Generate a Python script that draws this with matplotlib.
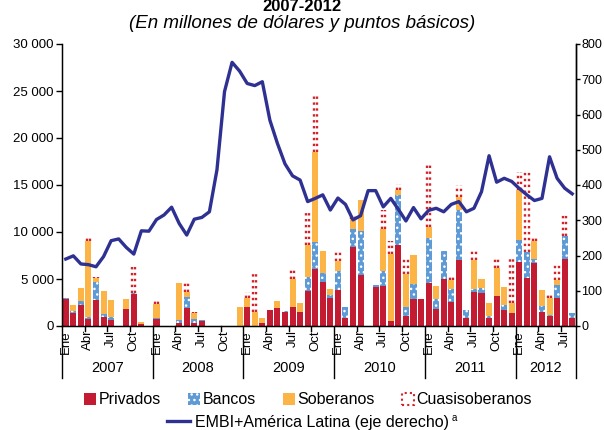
import numpy as np
import matplotlib
matplotlib.use("Agg")
import matplotlib.pyplot as plt
from matplotlib.patches import Patch
from matplotlib.lines import Line2D
import matplotlib.transforms as mtransforms

plt.rcParams['font.family'] = ['Liberation Sans', 'DejaVu Sans']
plt.rcParams['hatch.linewidth'] = 1.0

# ── Data (monthly, Ene 2007 – Ago 2012) ─────────────────────────
years = ["2007", "2008", "2009", "2010", "2011", "2012"]
month_labels = ["Ene", "Abr", "Jul", "Oct"]

privados = [2900, 1400, 2200, 700, 2800, 1000, 650, 0, 1800, 3450, 200, 0,
            700, 0, 0, 300, 1950, 300, 500, 0, 0, 0, 0, 0,
            2000, 0, 350, 1700, 1950, 1500, 2000, 1500, 3700, 6050, 4700, 3000,
            3850, 900, 8450, 5450, 0, 4200, 4300, 550, 8650, 1050, 2900, 2850,
            4600, 1850, 5050, 2600, 7000, 900, 3650, 3550, 800, 3200, 1650, 1350,
            6850, 5150, 6650, 1500, 1100, 3000, 7100, 900]
bancos = [100, 150, 450, 250, 1900, 300, 300, 0, 0, 100, 0, 0,
          150, 0, 0, 350, 1150, 400, 100, 0, 0, 0, 0, 0,
          0, 0, 0, 0, 0, 50, 0, 0, 1500, 2850, 900, 300,
          2000, 1150, 1850, 4650, 0, 150, 1500, 0, 5300, 1000, 1550, 0,
          4800, 1050, 2950, 1300, 5350, 750, 300, 450, 250, 0, 600, 0,
          2300, 2750, 450, 650, 100, 1350, 2500, 500]
soberanos = [0, 650, 1350, 8050, 400, 2450, 1800, 0, 1100, 0, 200, 0,
             1450, 0, 0, 3950, 550, 700, 0, 0, 0, 0, 0, 2050,
             1000, 1500, 550, 0, 700, 0, 3000, 950, 3450, 9600, 2400, 600,
             1050, 0, 1100, 3300, 0, 0, 4500, 7150, 500, 3500, 3100, 0,
             1150, 1350, 0, 1000, 1400, 0, 3050, 950, 1450, 3000, 1850, 1050,
             5300, 0, 1950, 1700, 1800, 550, 0, 0]
cuasisoberanos = [0, 0, 0, 400, 100, 0, 0, 0, 0, 3050, 0, 0,
                  600, 0, 0, 0, 950, 100, 0, 0, 0, 0, 0, 0,
                  600, 4000, 0, 0, 0, 0, 1100, 0, 3350, 6250, 0, 0,
                  1050, 0, 500, 0, 0, 0, 2050, 1350, 650, 1650, 0, 0,
                  6650, 0, 0, 500, 1250, 0, 1100, 0, 0, 1050, 0, 4800,
                  1950, 8600, 550, 0, 300, 1750, 2400, 0]
embi = [190, 199, 176, 174, 168, 197, 242, 247, 223, 204, 270, 269,
        302, 315, 337, 291, 258, 303, 308, 324, 443, 665, 748, 723,
        688, 682, 693, 584, 518, 460, 426, 414, 353, 362, 372, 329,
        363, 345, 301, 313, 384, 384, 338, 362, 331, 298, 336, 304,
        328, 334, 324, 345, 353, 324, 334, 381, 483, 408, 419, 410,
        390, 372, 356, 362, 480, 419, 391, 375]

# ── Style ──────────────────────────────────────────────────────
RED    = "#C21B32"
BLUE   = "#5E9BD6"
ORANGE = "#FDB446"
NAVY   = "#2E3192"
CUASI  = "#D2232A"
DOTS   = (0, (1, 1.5))

n  = len(privados)
x  = np.arange(n)
p  = np.array(privados)
b  = np.array(bancos)
s  = np.array(soberanos)
c  = np.array(cuasisoberanos)
W  = 0.8

fig = plt.figure(figsize=(6.04, 4.30), dpi=100)
ax = fig.add_axes([62/604, 1 - 326/430, 514/604, 282/430])

ax.bar(x, p, W, color=RED, lw=0)
ax.bar(x, b, W, bottom=p, color=BLUE, edgecolor="white", hatch="...", lw=0)
ax.bar(x, s, W, bottom=p + b, color=ORANGE, lw=0)

# cuasisoberanos: white bars drawn as two dotted red columns
base = p + b + s
has_c = c > 0
for off in (-0.22, 0.22):
    ax.vlines(x[has_c] + off, base[has_c], (base + c)[has_c], colors=CUASI,
              lw=1.7, linestyles=[DOTS])

ax.set_xlim(-0.5, n - 0.5)
ax.set_ylim(0, 30000)
ax.set_yticks(range(0, 30001, 5000))
ax.set_yticklabels([f"{v:,}".replace(",", " ") for v in range(0, 30001, 5000)],
                   fontsize=9.5)
ax.set_xticks([])
ax.spines["top"].set_visible(False)
ax.tick_params(axis="y", direction="out", length=4, width=1, pad=2)
for sp in ["left", "bottom", "right"]:
    ax.spines[sp].set_linewidth(1)

ax2 = ax.twinx()
ax2.plot(x, embi, color=NAVY, lw=2.4)
ax2.set_ylim(0, 800)
ax2.set_yticks(range(0, 801, 100))
ax2.set_yticklabels([str(v) for v in range(0, 801, 100)], fontsize=9)
ax2.tick_params(axis="y", direction="out", length=3, width=1, pad=1)
ax2.spines["top"].set_visible(False)
ax2.spines["right"].set_linewidth(1)

# ── Custom x axis: months / years ──────────────────────────────
trans = mtransforms.blended_transform_factory(ax.transData, ax.transAxes)
px = 1 / 282
for yi in range(len(years)):
    start = yi * 12
    for q, lab in enumerate(month_labels):
        m = start + q * 3
        if m >= n:
            break
        ax.text(m, -4 * px, lab, rotation=90, ha="center", va="top",
                fontsize=9.5, transform=trans)
        if q > 0:
            ax.plot([m - 0.5, m - 0.5], [0, -5 * px], color="black", lw=1,
                    transform=trans, clip_on=False)
    end = min(start + 12, n)
    ax.plot([start - 0.5, start - 0.5], [0, -52 * px], color="black", lw=1,
            transform=trans, clip_on=False)
    ax.text((start + end - 1) / 2, -42 * px, years[yi], ha="center",
            va="center", fontsize=10.5, transform=trans)
ax.plot([n - 0.5, n - 0.5], [0, -52 * px], color="black", lw=1,
        transform=trans, clip_on=False)

# ── Titles ─────────────────────────────────────────────────────
fig.text(0.5, 1 - 11/430, "2007-2012", ha="center", va="baseline",
         fontsize=12, fontweight="bold")
fig.text(0.5, 1 - 23/430, "(En millones de dólares y puntos básicos)",
         ha="center", va="center", fontsize=13.5, style="italic")

# ── Legend ─────────────────────────────────────────────────────
h1 = [Patch(facecolor=RED, lw=0),
      Patch(facecolor=BLUE, edgecolor="white", hatch="...", lw=0),
      Patch(facecolor=ORANGE, lw=0),
      Patch(facecolor="white", edgecolor=CUASI, lw=1.5, ls=DOTS)]
fig.legend(h1, ["Privados", "Bancos", "Soberanos", "Cuasisoberanos"],
           loc="center", bbox_to_anchor=(308/604, 1 - 400/430), ncol=4,
           frameon=False, fontsize=11.5, handlelength=0.75, handleheight=0.75,
           handletextpad=0.15, columnspacing=1.7, borderpad=0)
fig.legend([Line2D([], [], color=NAVY, lw=2.4)],
           ["EMBI+América Latina (eje derecho)"],
           loc="center", bbox_to_anchor=(308/604, 1 - 422/430),
           frameon=False, fontsize=11.5, handlelength=1.4, handletextpad=0.3,
           borderpad=0)
fig.text(452/604, 1 - 418/430, "a", fontsize=7, ha="left", va="center")

fig.savefig("out.png", dpi=100)
